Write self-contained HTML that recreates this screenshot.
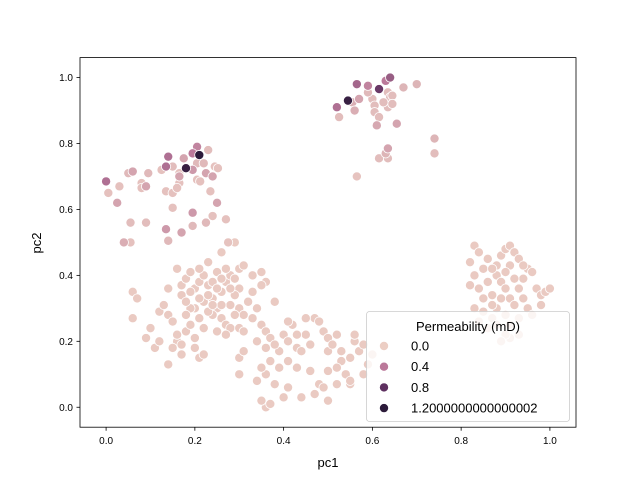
<!DOCTYPE html>
<html><head><meta charset="utf-8"><style>
body{margin:0;background:#fff;}
svg text{font-family:"Liberation Sans","DejaVu Sans",sans-serif;fill:#000;}
</style></head><body>
<svg id="chart" width="640" height="480" xmlns="http://www.w3.org/2000/svg">
<rect width="640" height="480" fill="#fff"/>
<g id="marks"></g>
<rect x="80" y="57.6" width="496" height="369.6" fill="none" stroke="#000" stroke-width="0.8"/>
<g id="xticks"></g>
<g id="yticks"></g>
<text x="328" y="467" font-size="13" text-anchor="middle">pc1</text>
<text transform="translate(41,243) rotate(-90)" font-size="13" text-anchor="middle">pc2</text>
<g id="legend">
<rect x="366.5" y="311.5" width="203" height="110" rx="3" fill="#fff" fill-opacity="0.8" stroke="#ccc" stroke-width="0.8"/>
<text x="468" y="331" font-size="13" text-anchor="middle">Permeability (mD)</text>
</g>
</svg>
<script>
const xTicks=[0,0.2,0.4,0.6,0.8,1.0];
const xTickLabels=["0.0","0.2","0.4","0.6","0.8","1.0"];
const yTicks=[0,0.2,0.4,0.6,0.8,1.0];
const yTickLabels=["0.0","0.2","0.4","0.6","0.8","1.0"];
const legendValues=[0.0,0.4,0.8,1.2];
const legendLabels=["0.0","0.4","0.8","1.2000000000000002"];
// [pc1, pc2, permeability]
const clusterTopLeft=[[0,0.685,0.45],[0.005,0.65,0.06],[0.03,0.67,0.06],[0.025,0.62,0.2],[0.05,0.71,0.1],[0.06,0.715,0.2],[0.095,0.71,0.1],[0.08,0.68,0.06],[0.09,0.67,0.2],[0.08,0.665,0.06],[0.055,0.56,0.08],[0.09,0.56,0.08],[0.04,0.5,0.15],[0.055,0.5,0.06],[0.135,0.54,0.25],[0.14,0.505,0.1],[0.17,0.53,0.2],[0.15,0.605,0.06],[0.195,0.59,0.25],[0.195,0.55,0.1],[0.225,0.56,0.1],[0.24,0.58,0.06],[0.27,0.57,0.06],[0.25,0.62,0.2],[0.235,0.655,0.06],[0.275,0.5,0.05],[0.135,0.655,0.06],[0.15,0.65,0.06],[0.14,0.76,0.45],[0.135,0.73,0.45],[0.175,0.755,0.2],[0.15,0.73,0.08],[0.165,0.7,0.2],[0.165,0.68,0.06],[0.16,0.665,0.06],[0.165,0.71,0.06],[0.18,0.725,1.1],[0.195,0.72,0.25],[0.205,0.79,0.35],[0.195,0.77,0.4],[0.21,0.765,1.2],[0.23,0.78,0.08],[0.205,0.74,0.1],[0.22,0.74,0.1],[0.225,0.71,0.2],[0.24,0.7,0.2],[0.205,0.69,0.06],[0.212,0.685,0.06],[0.245,0.73,0.06],[0.252,0.725,0.06],[0.125,0.72,0.06]];
const clusterTopMid=[[0.565,0.98,0.5],[0.59,0.975,0.35],[0.64,1.0,0.55],[0.63,0.99,0.4],[0.615,0.965,0.75],[0.545,0.93,1.1],[0.52,0.91,0.45],[0.525,0.88,0.08],[0.555,0.925,0.15],[0.56,0.9,0.15],[0.57,0.935,0.2],[0.59,0.955,0.1],[0.6,0.935,0.08],[0.605,0.915,0.08],[0.605,0.895,0.08],[0.615,0.88,0.08],[0.61,0.855,0.18],[0.635,0.955,0.08],[0.64,0.94,0.08],[0.645,0.945,0.08],[0.635,0.91,0.08],[0.645,0.92,0.08],[0.625,0.925,0.08],[0.67,0.97,0.12],[0.7,0.98,0.12],[0.655,0.86,0.2],[0.635,0.785,0.2],[0.63,0.77,0.12],[0.635,0.755,0.08],[0.615,0.755,0.08],[0.74,0.815,0.12],[0.74,0.77,0.08],[0.565,0.7,0.05]];
const clusterBottomLeft=[[0.29,0.5],[0.06,0.35],[0.07,0.33],[0.06,0.27],[0.09,0.21],[0.1,0.24],[0.12,0.2],[0.11,0.18],[0.12,0.29],[0.13,0.31],[0.14,0.36],[0.14,0.28],[0.15,0.26],[0.16,0.2],[0.16,0.22],[0.17,0.19],[0.17,0.16],[0.18,0.23],[0.19,0.25],[0.2,0.18],[0.2,0.21],[0.21,0.15],[0.22,0.16],[0.17,0.37],[0.18,0.39],[0.19,0.41],[0.16,0.42],[0.17,0.34],[0.2,0.36],[0.21,0.38],[0.22,0.4],[0.23,0.37],[0.24,0.33],[0.25,0.3],[0.2,0.3],[0.22,0.32],[0.24,0.28],[0.26,0.27],[0.27,0.25],[0.28,0.24],[0.25,0.23],[0.27,0.22],[0.3,0.24],[0.31,0.23],[0.23,0.29],[0.21,0.27],[0.19,0.3],[0.18,0.28],[0.26,0.35],[0.27,0.38],[0.28,0.4],[0.3,0.42],[0.31,0.43],[0.33,0.4],[0.35,0.41],[0.36,0.38],[0.35,0.37],[0.3,0.36],[0.29,0.34],[0.28,0.31],[0.3,0.3],[0.31,0.28],[0.29,0.28],[0.32,0.32],[0.33,0.35],[0.34,0.3],[0.26,0.31],[0.24,0.38],[0.25,0.41],[0.23,0.44],[0.26,0.47],[0.27,0.42],[0.35,0.25],[0.38,0.32],[0.3,0.15],[0.31,0.17],[0.3,0.1],[0.21,0.42],[0.15,0.18],[0.14,0.13],[0.18,0.32],[0.22,0.24],[0.33,0.27],[0.12,0.2],[0.25,0.36],[0.28,0.36],[0.23,0.34],[0.21,0.33],[0.26,0.39],[0.29,0.39],[0.19,0.35],[0.24,0.31]];
const clusterBottomMid=[[0.36,0.0],[0.35,0.02],[0.37,0.01],[0.34,0.08],[0.36,0.1],[0.38,0.07],[0.35,0.12],[0.37,0.14],[0.36,0.18],[0.34,0.2],[0.36,0.23],[0.37,0.21],[0.39,0.17],[0.4,0.22],[0.41,0.2],[0.42,0.25],[0.43,0.18],[0.44,0.17],[0.45,0.22],[0.46,0.19],[0.47,0.27],[0.48,0.26],[0.49,0.23],[0.5,0.21],[0.5,0.17],[0.51,0.19],[0.52,0.22],[0.53,0.17],[0.53,0.14],[0.52,0.12],[0.54,0.1],[0.55,0.15],[0.56,0.2],[0.56,0.22],[0.57,0.17],[0.58,0.19],[0.59,0.13],[0.6,0.16],[0.58,0.1],[0.55,0.07],[0.55,0.08],[0.52,0.07],[0.5,0.11],[0.48,0.07],[0.47,0.04],[0.44,0.03],[0.41,0.06],[0.4,0.03],[0.43,0.12],[0.41,0.14],[0.39,0.12],[0.45,0.27],[0.43,0.22],[0.41,0.26],[0.38,0.19],[0.46,0.11],[0.5,0.02],[0.49,0.06]];
const clusterRight=[[0.83,0.49],[0.84,0.47],[0.82,0.44],[0.83,0.4],[0.82,0.37],[0.84,0.36],[0.85,0.42],[0.86,0.45],[0.86,0.38],[0.87,0.34],[0.85,0.33],[0.88,0.4],[0.88,0.43],[0.89,0.46],[0.9,0.48],[0.91,0.49],[0.92,0.47],[0.93,0.45],[0.91,0.43],[0.9,0.41],[0.89,0.38],[0.9,0.36],[0.91,0.33],[0.92,0.31],[0.93,0.36],[0.94,0.39],[0.95,0.42],[0.96,0.41],[0.94,0.33],[0.95,0.3],[0.97,0.36],[0.98,0.34],[0.99,0.35],[1.0,0.36],[0.98,0.31],[0.96,0.28],[0.93,0.27],[0.91,0.25],[0.9,0.28],[0.88,0.3],[0.87,0.27],[0.86,0.24],[0.84,0.26],[0.83,0.3],[0.85,0.29],[0.88,0.25],[0.91,0.21],[0.93,0.22],[0.9,0.22],[0.89,0.2],[0.87,0.42],[0.92,0.39],[0.89,0.33],[0.94,0.43],[0.87,0.31]];
const lowPerm=0.02;

const NS="http://www.w3.org/2000/svg";
const X0=80,X1=576,Y0=57.6,Y1=427.2;
const xMin=-0.0588,xMax=1.0588,yMin=-0.0605,yMax=1.0605;
function sx(v){return X0+(v-xMin)/(xMax-xMin)*(X1-X0);}
function sy(v){return Y1-(v-yMin)/(yMax-yMin)*(Y1-Y0);}
const stops=[[0,[236,206,196]],[0.4,[187,121,154]],[0.8,[94,48,96]],[1.2,[44,27,58]]];
function color(p){
  p=Math.max(0,Math.min(1.2,p));
  for(let i=0;i<stops.length-1;i++){
    const a=stops[i],b=stops[i+1];
    if(p<=b[0]){const t=(p-a[0])/(b[0]-a[0]);
      const c=a[1].map((v,k)=>Math.round(v+(b[1][k]-v)*t));return `rgb(${c[0]},${c[1]},${c[2]})`;}
  }
  return 'rgb(44,27,58)';
}
function el(tag,attrs,parent){const e=document.createElementNS(NS,tag);for(const k in attrs)e.setAttribute(k,attrs[k]);parent.appendChild(e);return e;}
const marks=document.getElementById('marks');
function drawPoint(x,y,p){
  const c=el('circle',{cx:sx(x),cy:sy(y),r:4.6,fill:color(p),stroke:'#fff','stroke-width':0.8},marks);
  
  
}
clusterBottomLeft.forEach(d=>drawPoint(d[0],d[1],lowPerm));
clusterBottomMid.forEach(d=>drawPoint(d[0],d[1],lowPerm));
clusterRight.forEach(d=>drawPoint(d[0],d[1],lowPerm));
clusterTopLeft.slice().sort((a,b)=>a[2]-b[2]).forEach(d=>drawPoint(d[0],d[1],d[2]));
clusterTopMid.slice().sort((a,b)=>a[2]-b[2]).forEach(d=>drawPoint(d[0],d[1],d[2]));

const xg=document.getElementById('xticks');
xTicks.forEach((v,i)=>{
  const l=el('line',{x1:sx(v),x2:sx(v),y1:Y1,y2:Y1+3.5,stroke:'#000','stroke-width':0.8},xg);
  
  
  const t=el('text',{x:sx(v),y:Y1+17,'font-size':10,'text-anchor':'middle'},xg);
  t.textContent=xTickLabels[i];
  
  
});
const yg=document.getElementById('yticks');
yTicks.forEach((v,i)=>{
  const l=el('line',{x1:X0-3.5,x2:X0,y1:sy(v),y2:sy(v),stroke:'#000','stroke-width':0.8},yg);
  
  
  const t=el('text',{x:X0-7,y:sy(v)+3.5,'font-size':10,'text-anchor':'end'},yg);
  t.textContent=yTickLabels[i];
  
  
});
const lg=document.getElementById('legend');
legendValues.forEach((v,i)=>{
  const y=346+i*20.7;
  const c=el('circle',{cx:384,cy:y,r:4.6,fill:color(v),stroke:'#fff','stroke-width':0.8},lg);
  
  
  const t=el('text',{x:411,y:y+4.5,'font-size':13},lg);
  t.textContent=legendLabels[i];
  
  
});
</script>
</body></html>
